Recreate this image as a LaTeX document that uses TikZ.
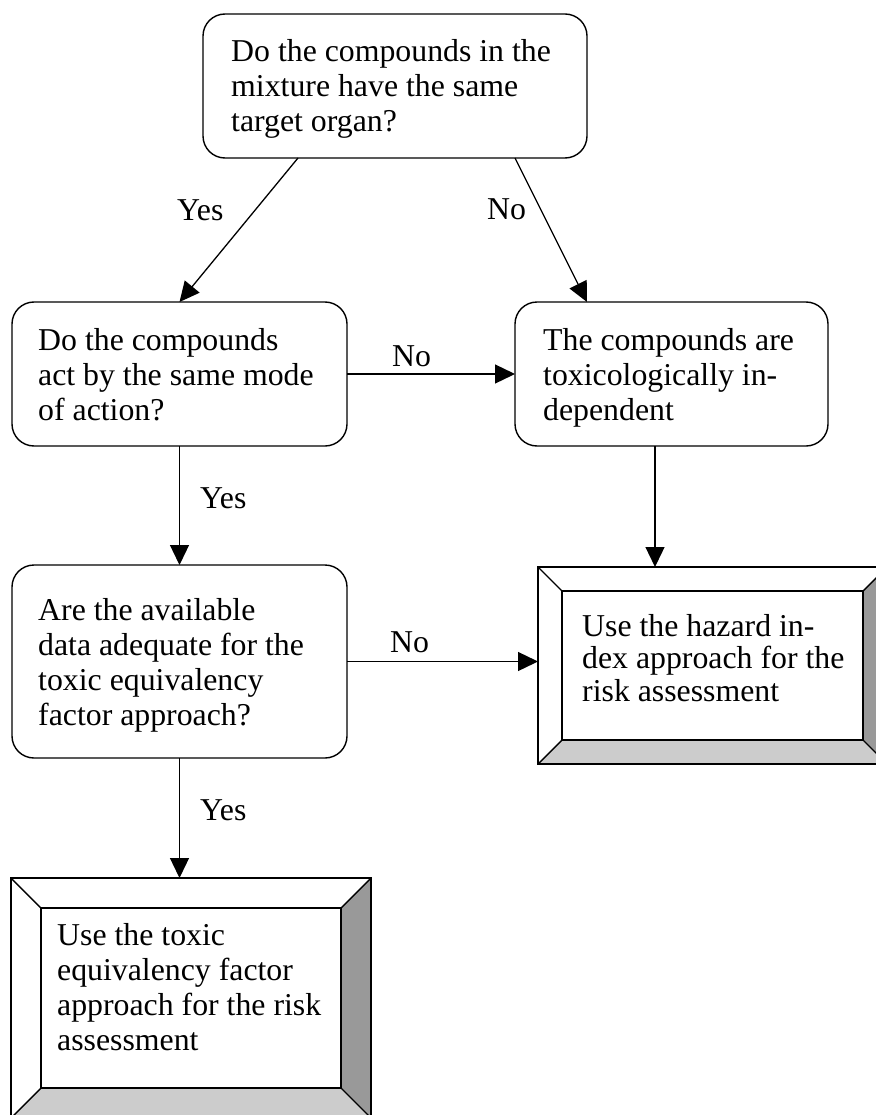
\documentclass[tikz,border=0pt]{standalone}
\usepackage{fontspec}
\setmainfont{Liberation Serif}
\usetikzlibrary{arrows.meta,calc}
\definecolor{darkpanel}{gray}{0.6}
\definecolor{lightpanel}{gray}{0.8}
\tikzset{
  boxline/.style={line width=1.4pt, line join=miter},
  rbox/.style={draw, line width=1.4pt, rounded corners=22pt, outer sep=0pt, inner sep=0pt, fill=white},
  bbox/.style={outer sep=0pt, inner sep=0pt, fill=white},
  txt/.style={font=\fontsize{31.8}{35}\selectfont, align=left, inner sep=0pt, anchor=base west},
  lbl/.style={font=\fontsize{31.8}{35}\selectfont, inner sep=0pt, anchor=base west},
  arr/.style={line width=1.3pt, -{Triangle[length=20pt,width=19pt]}}
}
\newcommand\bevelpanels[2]{%
 \fill[darkpanel] (#1.north east) -- (#1.south east) -- ($(#1.south east)+(-#2,-#2)$) -- ($(#1.north east)+(-#2,#2)$) -- cycle;
 \fill[lightpanel] (#1.south west) -- (#1.south east) -- ($(#1.south east)+(-#2,-#2)$) -- ($(#1.south west)+(#2,-#2)$) -- cycle;
 \draw[boxline] (#1.north west) rectangle (#1.south east);
 \draw[boxline] ($(#1.north west)+(#2,#2)$) rectangle ($(#1.south east)+(-#2,-#2)$);
 \draw[boxline] (#1.north west) -- ++(#2,#2);
 \draw[boxline] (#1.north east) -- ++(-#2,#2);
 \draw[boxline] (#1.south west) -- ++(#2,-#2);
 \draw[boxline] (#1.south east) -- ++(-#2,-#2);
}
\begin{document}
\begin{tikzpicture}[x=1pt,y=-1pt]
\useasboundingbox (0,0) rectangle (875,1115);
\fill[white] (0,0) rectangle (875,1115);

% rounded question boxes
\node[rbox, minimum width=384pt, minimum height=144pt] (T) at (395,86) {};
\node[rbox, minimum width=335pt, minimum height=144pt] (A) at (179.5,374) {};
\node[rbox, minimum width=313pt, minimum height=144pt] (B) at (671.5,374) {};
\node[rbox, minimum width=335pt, minimum height=193pt] (C) at (179.5,661.5) {};

% bevelled result boxes
\node[bbox, minimum width=349pt, minimum height=197pt] (H) at (712.5,665.5) {};
\bevelpanels{H}{24}
\node[bbox, minimum width=360pt, minimum height=240pt] (E) at (191,998) {};
\bevelpanels{E}{30}

% texts (anchored at the baseline of the last line)
\node[txt] (Tt) at (231,132) {Do the compounds in the\\mixture have the same\\target organ?};
\node[txt] (At) at (38,420) {Do the compounds\\act by the same mode\\of action?};
\node[txt] (Bt) at (543,420) {The compounds are\\toxicologically in-\\dependent};
\node[txt] (Ct) at (38,725) {Are the available\\data adequate for the\\toxic equivalency\\factor approach?};
\node[txt, font=\fontsize{31.8}{32.5}\selectfont] (Ht) at (582,701) {Use the hazard in-\\dex approach for the\\risk assessment};
\node[txt] (Et) at (57,1050) {Use the toxic\\equivalency factor\\approach for the risk\\assessment};

% connectors
\coordinate (ta) at ($(T.south west)+(95,0)$);
\coordinate (tb) at ($(T.south west)+(312,0)$);
\coordinate (bn) at ($(B.north west)+(72,0)$);
\coordinate (bh) at ($(B.south west)+(140,0)$);
\draw[arr] (ta) -- (A.north);
\draw[arr] (tb) -- (bn);
\draw[arr] (A.east) -- (A.east -| B.west);
\draw[arr] (A.south) -- (C.north);
\draw[arr] (bh) -- (bh |- H.north);
\draw[arr] (C.east) -- (C.east -| H.west);
\draw[arr] (C.south) -- (C.south |- E.north);

% labels
\node[lbl] (l1) at (177,221) {Yes};
\node[lbl] (l2) at (487,220) {No};
\node[lbl] (l3) at (392,366) {No};
\node[lbl] (l4) at (200,508) {Yes};
\node[lbl] (l5) at (390,652) {No};
\node[lbl] (l6) at (200,820) {Yes};
\end{tikzpicture}
\end{document}
